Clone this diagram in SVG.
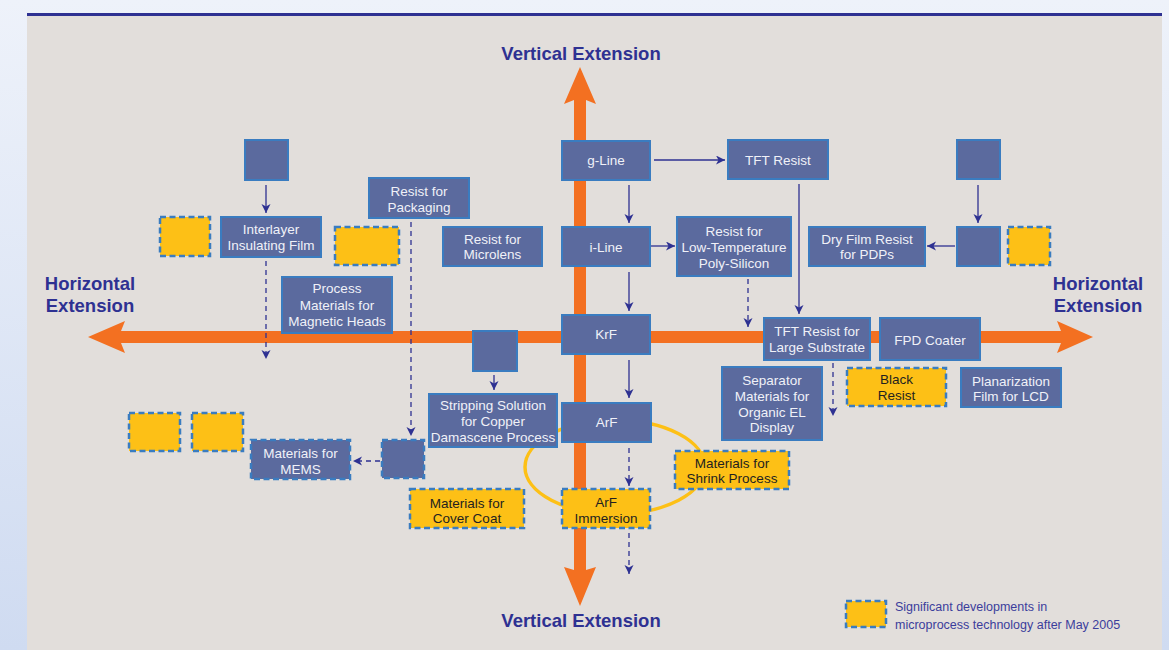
<svg xmlns="http://www.w3.org/2000/svg" width="1169" height="650" viewBox="0 0 1169 650">
<defs>
<linearGradient id="bg" x1="0" y1="0" x2="0" y2="1">
<stop offset="0" stop-color="#eef2fa"/>
<stop offset="1" stop-color="#cfdbf1"/>
</linearGradient>
<marker id="ah" markerUnits="userSpaceOnUse" markerWidth="10" markerHeight="10" refX="9" refY="4.5" orient="auto">
<path d="M0,0 L9,4.5 L0,9 L2.5,4.5 z" fill="#2e3192"/>
</marker>
<style>
.box{fill:#5b6a9e;stroke:#3a7cc0;stroke-width:2}
.nb{fill:#5b6a9e;stroke:#3a7cc0;stroke-width:2.5;stroke-dasharray:6 3.5}
.ny{fill:#fdc016;stroke:#3a7cc0;stroke-width:2.5;stroke-dasharray:6 3.5}
.t{font-family:"Liberation Sans",Arial,sans-serif;font-size:13.5px;fill:#f0f1f8;text-anchor:middle}
.td{fill:#231f20}
.h{font-family:"Liberation Sans",Arial,sans-serif;font-size:18.5px;font-weight:bold;fill:#2e3192;text-anchor:middle}
.lg{font-family:"Liberation Sans",Arial,sans-serif;font-size:12.5px;fill:#3b3d9c}
.c{stroke:#2e3192;stroke-width:1.3;fill:none;marker-end:url(#ah)}
.d{stroke-dasharray:5 4}
</style>
</defs>
<rect x="0" y="0" width="1169" height="650" fill="url(#bg)"/>
<rect x="27" y="15" width="1135" height="640" fill="#e2dedb"/>
<rect x="27" y="13" width="1135" height="3" fill="#2e3192"/>

<g id="axes">
<polygon fill="#f37021" points="580,67 596,104 586,100 586,570 596,567 580,606 564,567 574,570 574,100 564,104"/>
<polygon fill="#f37021" points="88,337 125,321 121,331 1061,331 1057,321 1093,337 1057,353 1061,343 121,343 125,353"/>
<text class="h" x="581" y="60">Vertical Extension</text>
<text class="h" x="581" y="627">Vertical Extension</text>
<text class="h" x="90" y="290">Horizontal</text>
<text class="h" x="90" y="312">Extension</text>
<text class="h" x="1098" y="290">Horizontal</text>
<text class="h" x="1098" y="312">Extension</text>
</g>

<g id="ellipse">
<ellipse cx="615" cy="467" rx="90" ry="47" fill="none" stroke="#fdc016" stroke-width="3.5"/>
</g>

<g id="connectors">
<line class="c" x1="266" y1="185" x2="266" y2="213"/>
<line class="c d" x1="266" y1="261" x2="266" y2="359"/>
<line class="c d" x1="411" y1="222" x2="411" y2="436"/>
<line class="c d" x1="380" y1="461" x2="353" y2="461"/>
<line class="c" x1="629" y1="185" x2="629" y2="223"/>
<line class="c" x1="654" y1="160" x2="725" y2="160"/>
<line class="c" x1="651" y1="246" x2="675" y2="246"/>
<line class="c" x1="629" y1="272" x2="629" y2="311"/>
<line class="c d" x1="748" y1="279" x2="748" y2="327"/>
<line class="c" x1="799" y1="184" x2="799" y2="314"/>
<line class="c" x1="978" y1="185" x2="978" y2="223"/>
<line class="c" x1="955" y1="246" x2="927" y2="246"/>
<line class="c" x1="494" y1="375" x2="494" y2="390"/>
<line class="c" x1="629" y1="360" x2="629" y2="398"/>
<line class="c d" x1="629" y1="448" x2="629" y2="486"/>
<line class="c d" x1="629" y1="533" x2="629" y2="574"/>
<line class="c d" x1="833" y1="363" x2="833" y2="416"/>
</g>

<g id="n-blank-top-left"><rect class="box" x="245" y="140" width="43" height="40"/></g>
<g id="n-gline"><rect class="box" x="562" y="141" width="88" height="39"/><text class="t" x="606" y="165">g-Line</text></g>
<g id="n-tft"><rect class="box" x="728" y="140" width="100" height="39"/><text class="t" x="778" y="164.5">TFT Resist</text></g>
<g id="n-blank-top-right"><rect class="box" x="957" y="140" width="43" height="39"/></g>
<g id="n-interlayer"><rect class="box" x="221" y="217" width="100" height="40"/><text class="t" x="271" y="234">Interlayer</text><text class="t" x="271" y="250">Insulating Film</text></g>
<g id="n-new1"><rect class="ny" x="160" y="217" width="50" height="39"/></g>
<g id="n-packaging"><rect class="box" x="369" y="178" width="100" height="40"/><text class="t" x="419" y="196">Resist for</text><text class="t" x="419" y="212">Packaging</text></g>
<g id="n-new2"><rect class="ny" x="335" y="227" width="64" height="38"/></g>
<g id="n-microlens"><rect class="box" x="443" y="227" width="99" height="39"/><text class="t" x="492.5" y="244">Resist for</text><text class="t" x="492.5" y="259">Microlens</text></g>
<g id="n-iline"><rect class="box" x="562" y="227" width="88" height="39"/><text class="t" x="606" y="251.5">i-Line</text></g>
<g id="n-ltps"><rect class="box" x="677" y="217" width="114" height="59"/><text class="t" x="734" y="236">Resist for</text><text class="t" x="734" y="252">Low-Temperature</text><text class="t" x="734" y="268">Poly-Silicon</text></g>
<g id="n-dryfilm"><rect class="box" x="809" y="227" width="116" height="39"/><text class="t" x="867" y="244">Dry Film Resist</text><text class="t" x="867" y="259">for PDPs</text></g>
<g id="n-blank-right"><rect class="box" x="957" y="227" width="43" height="39"/></g>
<g id="n-new3"><rect class="ny" x="1008" y="227" width="42" height="38"/></g>
<g id="n-magnetic"><rect class="box" x="282" y="277" width="110" height="56"/><text class="t" x="337" y="293">Process</text><text class="t" x="337" y="310">Materials for</text><text class="t" x="337" y="326">Magnetic Heads</text></g>
<g id="n-krf"><rect class="box" x="562" y="315" width="88" height="39"/><text class="t" x="606" y="339">KrF</text></g>
<g id="n-tftlarge"><rect class="box" x="764" y="318" width="106" height="42"/><text class="t" x="817" y="336">TFT Resist for</text><text class="t" x="817" y="352">Large Substrate</text></g>
<g id="n-fpd"><rect class="box" x="880" y="318" width="100" height="42"/><text class="t" x="930" y="345">FPD Coater</text></g>
<g id="n-blank-bar"><rect class="box" x="473" y="331" width="44" height="40"/></g>
<g id="n-stripping"><rect class="box" x="429" y="394" width="128" height="53"/><text class="t" x="493" y="410">Stripping Solution</text><text class="t" x="493" y="426">for Copper</text><text class="t" x="493" y="442">Damascene Process</text></g>
<g id="n-arf"><rect class="box" x="562" y="403" width="89" height="39"/><text class="t" x="606.5" y="427">ArF</text></g>
<g id="n-separator"><rect class="box" x="722" y="367" width="100" height="73"/><text class="t" x="772" y="385">Separator</text><text class="t" x="772" y="401">Materials for</text><text class="t" x="772" y="417">Organic EL</text><text class="t" x="772" y="432">Display</text></g>
<g id="n-black"><rect class="ny" x="847" y="368" width="99" height="38"/><text class="t td" x="896.5" y="384">Black</text><text class="t td" x="896.5" y="400">Resist</text></g>
<g id="n-planar"><rect class="box" x="961" y="368" width="100" height="39"/><text class="t" x="1011" y="386">Planarization</text><text class="t" x="1011" y="401">Film for LCD</text></g>
<g id="n-new4"><rect class="ny" x="129" y="413" width="51" height="38"/></g>
<g id="n-new5"><rect class="ny" x="192" y="413" width="51" height="38"/></g>
<g id="n-mems"><rect class="nb" x="251" y="440" width="99" height="39"/><text class="t" x="300.5" y="458">Materials for</text><text class="t" x="300.5" y="474">MEMS</text></g>
<g id="n-blank-new"><rect class="nb" x="382" y="440" width="42" height="38"/></g>
<g id="n-shrink"><rect class="ny" x="675" y="451" width="114" height="38"/><text class="t td" x="732" y="468">Materials for</text><text class="t td" x="732" y="483">Shrink Process</text></g>
<g id="n-cover"><rect class="ny" x="410" y="489" width="114" height="39"/><text class="t td" x="467" y="508">Materials for</text><text class="t td" x="467" y="523">Cover Coat</text></g>
<g id="n-immersion"><rect class="ny" x="562" y="489" width="88" height="39"/><text class="t td" x="606" y="507">ArF</text><text class="t td" x="606" y="523">Immersion</text></g>

<g id="legend">
<rect class="ny" x="846" y="601" width="40" height="26"/>
<text class="lg" x="895" y="611">Significant developments in</text>
<text class="lg" x="895" y="629">microprocess technology after May 2005</text>
</g>
</svg>
